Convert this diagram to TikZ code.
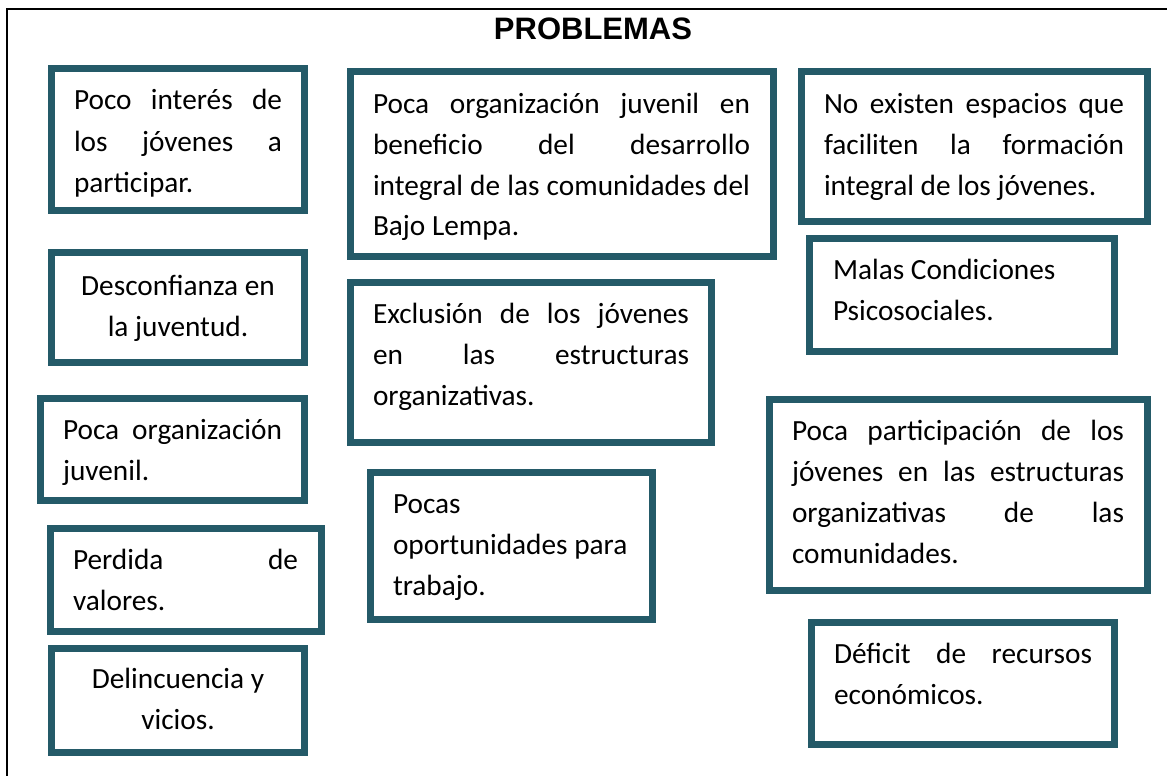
\documentclass[tikz,border=0pt]{standalone}
\usepackage{fontspec}
\setmainfont{Carlito}
\newfontfamily\titlefont{Liberation Sans}
\definecolor{boxteal}{RGB}{36,90,104}
\tikzset{
  pbox/.style={draw=boxteal, line width=7pt, inner sep=0pt, fill=white},
  ptext/.style={anchor=base west, inner sep=0pt, outer sep=0pt},
}
\newcommand{\ptxt}[2]{\parbox[t]{#1}{\fontsize{29.3}{41}\selectfont #2}}
\newcommand{\jl}[2]{\makebox[#1][s]{#2}}
\begin{document}
\begin{tikzpicture}[x=1pt,y=-1pt]
\useasboundingbox (0,0) rectangle (1167,776);
% frame
\draw[line width=2.6pt] (7,776) -- (7,9) -- (1167,9);
\node[anchor=base, inner sep=0pt, font=\titlefont\bfseries\fontsize{31}{36}\selectfont] (title) at (593,40) {PROBLEMAS};

% boxes
\node[pbox, minimum width=253pt, minimum height=142pt] (b1) at (178,139.5) {};
\node[pbox, minimum width=253pt, minimum height=110pt] (b2) at (178,307.5) {};
\node[pbox, minimum width=423pt, minimum height=185pt] (b3) at (562,164) {};
\node[pbox, minimum width=361pt, minimum height=160pt] (b4) at (531,362.5) {};
\node[pbox, minimum width=346pt, minimum height=150pt] (b5) at (974.5,146.5) {};
\node[pbox, minimum width=305pt, minimum height=113pt] (b6) at (962,295) {};
\node[pbox, minimum width=378pt, minimum height=191pt] (b7) at (958.5,495) {};
\node[pbox, minimum width=303pt, minimum height=122pt] (b8) at (963,683.5) {};
\node[pbox, minimum width=264pt, minimum height=102pt] (b9) at (172.5,449.5) {};
\node[pbox, minimum width=271pt, minimum height=103pt] (b10) at (186,580) {};
\node[pbox, minimum width=253pt, minimum height=104pt] (b11) at (178,700.5) {};
\node[pbox, minimum width=282pt, minimum height=147pt] (b12) at (511.5,546) {};

% texts
\node[ptext] (t1) at (74,110) {\ptxt{208pt}{\jl{208pt}{Poco interés de}\\\jl{208pt}{los jóvenes a}\\participar.}};
\node[ptext] (t2) at (48,295) {\ptxt{260pt}{\centering Desconfianza en\\la juventud.}};
\node[ptext] (t3) at (373,113) {\ptxt{377pt}{\jl{377pt}{Poca organización juvenil en}\\\jl{377pt}{beneficio del desarrollo}\\\jl{377pt}{integral de las comunidades del}\\Bajo Lempa.}};
\node[ptext] (t4) at (373,323) {\ptxt{316pt}{\jl{316pt}{Exclusión de los jóvenes}\\\jl{316pt}{en las estructuras}\\organizativas.}};
\node[ptext] (t5) at (824,113) {\ptxt{300pt}{\jl{300pt}{No existen espacios que}\\\jl{300pt}{faciliten la formación}\\integral de los jóvenes.}};
\node[ptext] (t6) at (833,279) {\ptxt{280pt}{Malas Condiciones\\Psicosociales.}};
\node[ptext] (t7) at (792,440) {\ptxt{332pt}{\jl{332pt}{Poca participación de los}\\\jl{332pt}{jóvenes en las estructuras}\\\jl{332pt}{organizativas de las}\\comunidades.}};
\node[ptext] (t8) at (834,663) {\ptxt{258pt}{\jl{258pt}{Déficit de recursos}\\económicos.}};
\node[ptext] (t9) at (63,439) {\ptxt{219pt}{\jl{219pt}{Poca organización}\\juvenil.}};
\node[ptext] (t10) at (73,569) {\ptxt{225pt}{\jl{225pt}{Perdida de}\\valores.}};
\node[ptext] (t11) at (48,688) {\ptxt{260pt}{\centering Delincuencia y\\vicios.}};
\node[ptext] (t12) at (393,513) {\ptxt{250pt}{Pocas\\oportunidades para\\trabajo.}};
\end{tikzpicture}
\end{document}
